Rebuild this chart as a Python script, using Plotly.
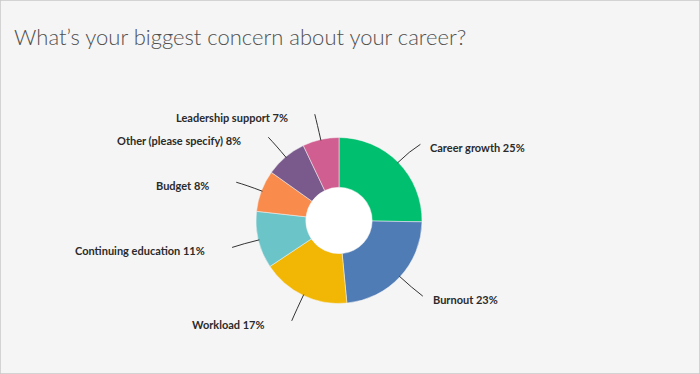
import math
import plotly.graph_objects as go

categories = ["Career growth", "Burnout", "Workload", "Continuing education",
              "Budget", "Other (please specify)", "Leadership support"]
values = [25, 23, 17, 11, 8, 8, 7]
colors = ["#00BF6F", "#507CB6", "#F2B705", "#6BC4C8", "#F98B4D", "#7A5A8C", "#D05E90"]
title_text = "What\u2019s your biggest concern about your career?"

W, H = 700, 374
CX, CY, R = 339, 220.5, 83
HOLE = 0.4


def px(x):
    return x / W


def py(y):
    return 1 - y / H


fig = go.Figure()
fig.add_trace(go.Pie(
    labels=categories, values=values, sort=False, direction="clockwise",
    rotation=0, hole=HOLE, textinfo="none", hoverinfo="label+percent",
    marker=dict(colors=colors, line=dict(color="#f5f5f5", width=0.5)),
    domain=dict(x=[px(CX - R), px(CX + R)], y=[py(CY + R), py(CY - R)]),
    showlegend=False,
))

shapes = [dict(type="circle", xref="paper", yref="paper", layer="below",
               x0=px(CX - R * HOLE), x1=px(CX + R * HOLE),
               y0=py(CY + R * HOLE), y1=py(CY - R * HOLE),
               fillcolor="white", line=dict(width=0))]
annotations = []

total = sum(values)
cum = 0
for cat, v in zip(categories, values):
    mid = (cum + v / 2) / total * 2 * math.pi
    cum += v
    s, c = math.sin(mid), math.cos(mid)
    side = 1 if s >= 0 else -1
    x0, y0 = CX + (R - 1) * s, CY - (R - 1) * c
    x1, y1 = CX + 99 * s, CY - 99 * c
    x2, y2 = CX + 110 * s + (3 if side > 0 else 0), CY - 110 * c + 1
    path = "M {} {} Q {} {} {} {}".format(px(x0), py(y0), px(x1), py(y1), px(x2), py(y2))
    shapes.append(dict(type="path", xref="paper", yref="paper", path=path,
                       line=dict(color="#333333", width=1)))
    if side > 0:
        tx, anchor = x2 + 8, "left"
    else:
        tx, anchor = x2 - 25, "right"
    annotations.append(dict(
        x=px(tx), y=py(y2 + 3.5), xref="paper", yref="paper",
        xanchor=anchor, yanchor="middle", showarrow=False,
        text="{} {}%".format(cat, v),
        font=dict(family="Lato", size=11, color="#2b2b2b", weight="bold"),
    ))

annotations.append(dict(
    x=px(12), y=py(37), xref="paper", yref="paper", xanchor="left", yanchor="middle",
    showarrow=False, text=title_text,
    font=dict(family="Lato", size=22, color="#505050", weight=300),
))

shapes.append(dict(type="rect", xref="paper", yref="paper", x0=0, x1=1, y0=0, y1=1,
                   line=dict(color="#c8c8c8", width=1.5), layer="above"))

fig.update_layout(
    width=W, height=H, margin=dict(l=0, r=0, t=0, b=0),
    paper_bgcolor="#f5f5f5", plot_bgcolor="#f5f5f5",
    shapes=shapes, annotations=annotations,
)

fig.write_html("out.html", config={"displayModeBar": False},
               post_script="document.body.style.margin='0';")
